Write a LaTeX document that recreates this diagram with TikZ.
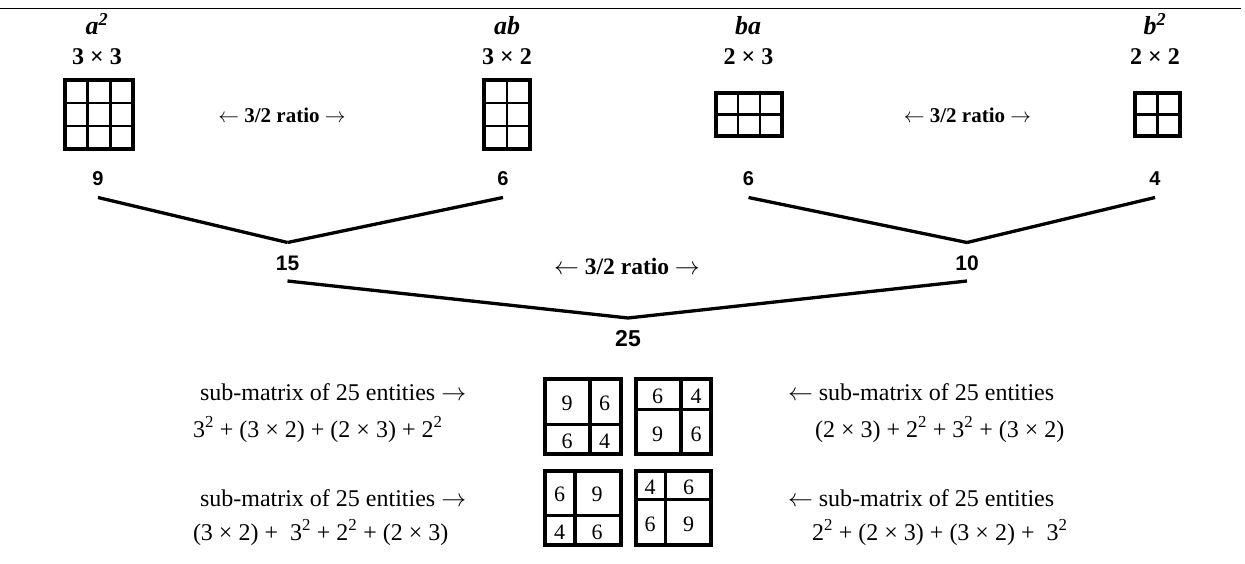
\documentclass[tikz,border=0pt]{standalone}
\usepackage{fontspec}
\setmainfont{Liberation Serif}
\newfontfamily\numfont{Liberation Sans}
\newcommand\ra{\ensuremath{\rightarrow}}
\newcommand\la{\ensuremath{\leftarrow}}
\newcommand\matgrid[6]{% x0 y0 x1 y1 cols rows
  \pgfmathsetmacro\gw{(#3-#1)/#5}%
  \pgfmathsetmacro\gh{(#4-#2)/#6}%
  \foreach \k in {1,...,\numexpr#5-1\relax}{\draw[gridin] ({#1+\k*\gw},#2) -- ({#1+\k*\gw},#4);}%
  \foreach \k in {1,...,\numexpr#6-1\relax}{\draw[gridin] (#1,{#2+\k*\gh}) -- (#3,{#2+\k*\gh});}%
  \draw[gridout] (#1,#2) rectangle (#3,#4);}
\begin{document}
\begin{tikzpicture}[x=1pt,y=-1pt,
  every node/.style={inner sep=0pt,outer sep=0pt},
  letlbl/.style={font=\fontsize{26}{28}\selectfont\bfseries\itshape,anchor=base},
  toplbl/.style={font=\fontsize{24}{26}\selectfont\bfseries,anchor=base},
  ratio/.style={font=\fontsize{21}{24}\selectfont\bfseries,anchor=base},
  num/.style={font=\numfont\fontsize{20}{24}\selectfont\bfseries,anchor=base},
  txt/.style={font=\fontsize{24}{27}\selectfont,anchor=base west},
  cellnum/.style={font=\fontsize{22}{24}\selectfont},
  conn/.style={line width=3.3pt,line cap=butt},
  gridout/.style={line width=4pt},
  gridin/.style={line width=2.8pt},
  boxout/.style={line width=4pt},
  boxin/.style={line width=3.3pt}]
\useasboundingbox (0,0) rectangle (1245,564);
\draw[line width=1.2pt] (0,8.3) -- (1241,8.3);

% top labels
\node[letlbl] (la) at (97,35) {a\textsuperscript{2}};
\node[toplbl] (da) at (97,65) {3 × 3};
\node[letlbl] (lab) at (507,35) {ab};
\node[toplbl] (dab) at (507,65) {3 × 2};
\node[letlbl] (lba) at (748,35) {ba};
\node[toplbl] (dba) at (748.5,65) {2 × 3};
\node[letlbl] (lb) at (1155,35) {b\textsuperscript{2}};
\node[toplbl] (db) at (1155,65) {2 × 2};

% grids
\matgrid{65}{80}{133}{149}{3}{3}
\matgrid{484}{80}{530}{149}{2}{3}
\matgrid{716}{93}{782}{136}{3}{2}
\matgrid{1135}{93}{1180}{136}{2}{2}

% ratio labels
\node[ratio] (r1) at (282,123) {\la\ 3/2 ratio \ra};
\node[ratio] (r2) at (967.5,123) {\la\ 3/2 ratio \ra};
\node[ratio,font=\fontsize{23.5}{26}\selectfont\bfseries] (r3) at (627,274) {\la\ 3/2 ratio \ra};

% numbers
\node[num] (n9) at (98,186) {9};
\node[num] (n6a) at (503,186) {6};
\node[num] (n6b) at (748.5,186) {6};
\node[num] (n4) at (1155,186) {4};
\node[num,font=\numfont\fontsize{21}{24}\selectfont\bfseries] (n15) at (287.5,270) {15};
\node[num,font=\numfont\fontsize{21}{24}\selectfont\bfseries] (n10) at (967,270) {10};
\node[num,font=\numfont\fontsize{23}{26}\selectfont\bfseries] (n25) at (628,346) {25};

\coordinate (c9) at ([yshift=-11.5pt]n9.base);
\coordinate (c6a) at ([yshift=-11.5pt]n6a.base);
\coordinate (c6b) at ([yshift=-11.5pt]n6b.base);
\coordinate (c4) at ([yshift=-11.5pt]n4.base);
\coordinate (j15) at ([yshift=27.5pt]n15.base);
\coordinate (j10) at ([yshift=27.5pt]n10.base);
\coordinate (c15) at ([yshift=-11pt]n15.base);
\coordinate (c10) at ([yshift=-11pt]n10.base);
\coordinate (j25) at ([yshift=28pt]n25.base);

\draw[conn] (c9) -- (j15);
\draw[conn] (c6a) -- (j15);
\draw[conn] (c6b) -- (j10);
\draw[conn] (c4) -- (j10);
\draw[conn] (c15) -- (j25);
\draw[conn] (c10) -- (j25);

% sub-matrix boxes
\draw[boxin] (590,379) -- (590,454);
\draw[boxin] (545,424.3) -- (621,424.3);
\draw[boxout] (545,379) rectangle (621,454);
\node[cellnum] (b1a) at (567,403) {9};
\node[cellnum] (b1b) at (604.5,403) {6};
\node[cellnum] (b1c) at (567,441.5) {6};
\node[cellnum] (b1d) at (604.5,441.5) {4};

\draw[boxin] (636,409.3) -- (711,409.3);
\draw[boxin] (681,379) -- (681,454);
\draw[boxout] (636,379) rectangle (711,454);
\node[cellnum] (b2a) at (657.5,396) {6};
\node[cellnum] (b2b) at (696,396) {4};
\node[cellnum] (b2c) at (657.5,434) {9};
\node[cellnum] (b2d) at (696,434) {6};

\draw[boxin] (575,471) -- (575,545);
\draw[boxin] (545,515.7) -- (621,515.7);
\draw[boxout] (545,471) rectangle (621,545);
\node[cellnum] (b3a) at (559.5,494) {6};
\node[cellnum] (b3b) at (597,494) {9};
\node[cellnum] (b3c) at (559.5,532.5) {4};
\node[cellnum] (b3d) at (597,532.5) {6};

\draw[boxin] (636,499.3) -- (711,499.3);
\draw[boxin] (665.7,471) -- (665.7,545);
\draw[boxout] (636,471) rectangle (711,545);
\node[cellnum] (b4a) at (650,487) {4};
\node[cellnum] (b4b) at (688.5,487) {6};
\node[cellnum] (b4c) at (650,524.5) {6};
\node[cellnum] (b4d) at (688.5,524.5) {9};

% side texts
\node[txt] (tl1) at (200,400) {sub-matrix of 25 entities \ra};
\node[txt] (tl2) at (193,437) {3\textsuperscript{2} + (3 × 2) + (2 × 3) + 2\textsuperscript{2}};
\node[txt] (tl3) at (200,506.5) {sub-matrix of 25 entities \ra};
\node[txt] (tl4) at (193,540) {(3 × 2) + \ 3\textsuperscript{2} + 2\textsuperscript{2} + (2 × 3)};
\node[txt] (tr1) at (788,400) {\la\ sub-matrix of 25 entities};
\node[txt] (tr2) at (815,437) {(2 × 3) + 2\textsuperscript{2} + 3\textsuperscript{2} + (3 × 2)};
\node[txt] (tr3) at (788,506.5) {\la\ sub-matrix of 25 entities};
\node[txt] (tr4) at (812,540) {2\textsuperscript{2} + (2 × 3) + (3 × 2) + \ 3\textsuperscript{2}};
\end{tikzpicture}
\end{document}
